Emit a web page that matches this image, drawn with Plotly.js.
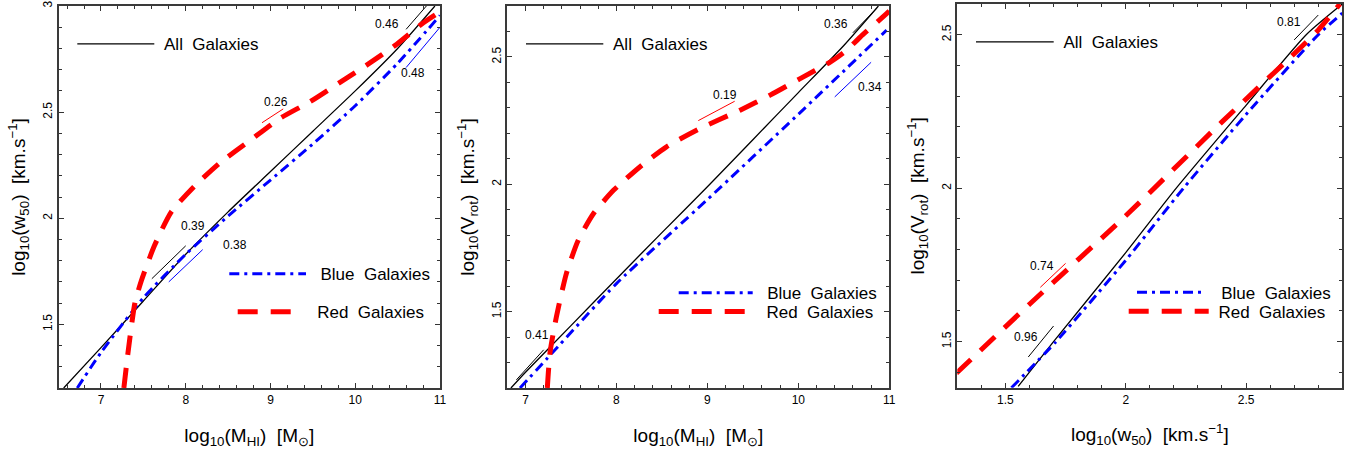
<!DOCTYPE html>
<html>
<head>
<meta charset="utf-8">
<script src="https://cdn.plot.ly/plotly-3.0.1.min.js"></script>
<style>html,body{margin:0;padding:0;background:#fff;}#chart{width:1355px;height:456px;}</style>
</head>
<body>
<div id="chart"></div>
<script>
// ---------------- DATA ----------------
// Panel 1: log10(MHI) vs log10(w50)
const p1_all_x  = [6.56, 7.0, 7.5, 8.0, 8.5, 9.0, 9.5, 10.0, 10.5, 10.94];
const p1_all_y  = [1.20, 1.39, 1.61, 1.83, 2.03, 2.22, 2.41, 2.60, 2.80, 3.00];
const p1_blue_x = [6.72, 7.0, 7.5, 8.0, 8.5, 9.0, 9.5, 10.0, 10.5, 11.0];
const p1_blue_y = [1.20, 1.367, 1.625, 1.83, 2.01, 2.18, 2.35, 2.53, 2.73, 2.955];
const p1_red_x  = [7.27, 7.32, 7.40, 7.48, 7.63, 7.83, 8.10, 8.40, 8.77, 9.11, 9.47, 9.82, 10.13, 10.49, 10.80, 10.95];
const p1_red_y  = [1.20, 1.37, 1.60, 1.71, 1.87, 2.03, 2.15, 2.26, 2.37, 2.47, 2.55, 2.64, 2.72, 2.82, 2.92, 2.96];

// Panel 2: log10(MHI) vs log10(Vrot)
const p2_all_x  = [6.84, 7.0, 7.5, 8.0, 8.5, 9.0, 9.5, 10.0, 10.5, 10.88];
const p2_all_y  = [1.20, 1.262, 1.445, 1.628, 1.81, 1.99, 2.175, 2.36, 2.545, 2.70];
const p2_blue_x = [6.94, 7.3, 8.0, 9.0, 10.0, 10.97];
const p2_blue_y = [1.20, 1.34, 1.61, 1.94, 2.275, 2.605];
const p2_red_x  = [7.24, 7.27, 7.34, 7.45, 7.58, 7.75, 7.97, 8.26, 8.55, 8.92, 9.36, 9.69, 10.02, 10.35, 10.53, 10.68, 10.97, 11.0];
const p2_red_y  = [1.20, 1.34, 1.48, 1.65, 1.78, 1.886, 1.977, 2.069, 2.147, 2.219, 2.291, 2.35, 2.415, 2.48, 2.526, 2.578, 2.67, 2.68];

// Panel 3: log10(w50) vs log10(Vrot)
const p3_all_x  = [1.553, 1.7, 2.0, 2.21, 2.5, 2.75, 2.9];
const p3_all_y  = [1.354, 1.50, 1.79, 2.00, 2.27, 2.50, 2.60];
const p3_blue_x = [1.525, 1.71, 2.0, 2.24, 2.5, 2.8, 2.9];
const p3_blue_y = [1.35, 1.50, 1.765, 2.00, 2.24, 2.50, 2.57];
const p3_red_x  = [1.296, 1.6, 2.0, 2.4, 2.7, 2.8, 2.89];
const p3_red_y  = [1.397, 1.622, 1.91, 2.216, 2.438, 2.515, 2.60];

// Slope indicator segments [x0,x1],[y0,y1]
const p1_seg_all1  = {x:[7.6, 8.0],   y:[1.715, 1.87]};
const p1_seg_blue1 = {x:[7.8, 8.2],   y:[1.70, 1.852]};
const p1_seg_red1  = {x:[8.9, 9.15],  y:[2.45, 2.515]};
const p1_seg_all2  = {x:[10.6, 10.85],y:[2.89, 3.005]};
const p1_seg_blue2 = {x:[10.6, 11.0], y:[2.71, 2.90]};
const p2_seg_all1  = {x:[6.9, 7.2],   y:[1.232, 1.35]};
const p2_seg_red1  = {x:[8.9, 9.3],   y:[2.25, 2.326]};
const p2_seg_all2  = {x:[10.6, 10.86],y:[2.595, 2.69]};
const p2_seg_blue2 = {x:[10.4, 10.8], y:[2.343, 2.479]};
const p3_seg_red1  = {x:[1.645, 1.75],y:[1.677, 1.755]};
const p3_seg_all1  = {x:[1.595, 1.70],y:[1.45, 1.551]};
const p3_seg_all2  = {x:[2.70, 2.80], y:[2.483, 2.564]};

const p1_slope_labels = ['0.46', '0.48', '0.26', '0.39', '0.38'];
const p2_slope_labels = ['0.36', '0.34', '0.19', '0.41'];
const p3_slope_labels = ['0.74', '0.96', '0.81'];

const legend_labels = ['All\u00a0\u00a0Galaxies', 'Blue\u00a0\u00a0Galaxies', 'Red\u00a0\u00a0Galaxies'];
const x_titles = ['log<sub>10</sub>(M<sub>HI</sub>)\u00a0\u00a0[M<sub>\u2299</sub>]',
                  'log<sub>10</sub>(M<sub>HI</sub>)\u00a0\u00a0[M<sub>\u2299</sub>]',
                  'log<sub>10</sub>(w<sub>50</sub>)\u00a0\u00a0[km.s<sup>\u22121</sup>]'];
const y_titles = ['log<sub>10</sub>(w<sub>50</sub>)\u00a0\u00a0[km.s<sup>\u22121</sup>]',
                  'log<sub>10</sub>(V<sub>rot</sub>)\u00a0\u00a0[km.s<sup>\u22121</sup>]',
                  'log<sub>10</sub>(V<sub>rot</sub>)\u00a0\u00a0[km.s<sup>\u22121</sup>]'];

// ---------------- STYLE / LAYOUT ----------------
const W = 1355, H = 456;
const FONT = 'Liberation Sans, Arial, Helvetica, sans-serif';
const BLACK = '#000000', BLUE = '#0000ff', RED = '#ff0000';
const sAll  = {color: BLACK, width: 1.3};
const sBlue = {color: BLUE, width: 3, dash: '10px,5px,3px,5px'};
const sRed  = {color: RED, width: 5, dash: '20px,13px'};
const LEG_FONT = 17;
const NBSP_W = 4.7; // approx width of one no-break space at LEG_FONT

function px2fx(p) { return p / W; }
function px2fy(p) { return 1 - p / H; }

const panels = [
  {xd:[58.6, 440], yd:[388, 6], xr:[6.5, 11], yr:[1.2, 3.0], xdt:1, xmin:0.2, ydt:0.5, ymin:0.1},
  {xd:[507.3, 889.3], yd:[388, 6], xr:[6.8, 11], yr:[1.2, 2.7], xdt:1, xmin:0.2, ydt:0.5, ymin:0.1},
  {xd:[957.3, 1342.3], yd:[387.7, 4], xr:[1.3, 2.9], yr:[1.35, 2.6], xdt:0.5, xmin:0.1, ydt:0.5, ymin:0.1}
];

function axis(range, domain, anchor, dt, mdt, title, isY) {
  const a = {
    range: range, domain: domain, anchor: anchor, autorange: false,
    tickmode: 'linear', tick0: 0, dtick: dt,
    ticks: 'inside', ticklen: 5, tickwidth: 1, tickcolor: '#333',
    showline: true, linecolor: '#3a3a3a', linewidth: 2, mirror: 'ticks',
    showgrid: false, zeroline: false, automargin: false,
    minor: {tick0: 0, dtick: mdt, ticks: 'inside', ticklen: 3, tickwidth: 1, tickcolor: '#333', showgrid: false},
    tickfont: {family: FONT, size: 12, color: '#000'},
    title: {text: title, font: {family: FONT, size: 19, color: '#000'}, standoff: isY ? 10 : 22}
  };
  if (isY) a.tickangle = -90;
  return a;
}

const layout = {
  width: W, height: H,
  margin: {l: 0, r: 0, t: 0, b: 0, pad: 0},
  paper_bgcolor: '#fff', plot_bgcolor: '#fff',
  font: {family: FONT, color: '#000'},
  showlegend: true,
  annotations: []
};

const data = [];
const curveSets = [
  [[p1_all_x, p1_all_y], [p1_blue_x, p1_blue_y], [p1_red_x, p1_red_y]],
  [[p2_all_x, p2_all_y], [p2_blue_x, p2_blue_y], [p2_red_x, p2_red_y]],
  [[p3_all_x, p3_all_y], [p3_blue_x, p3_blue_y], [p3_red_x, p3_red_y]]
];
const styles = [sAll, sBlue, sRed];

// legend key placement in page px: [key start, key end, text start, centre y]
const legendPos = [
  [[77.3, 154.3, 165, 44.3], [229.3, 306, 318.3, 274.3], [237.7, 293.3, 318.3, 312.3]],
  [[526, 603.3, 614, 44.3], [678.7, 752.7, 767.3, 293.3], [658.7, 756.7, 767.3, 312]],
  [[976, 1053.7, 1064.3, 42.3], [1137, 1202, 1219.7, 292.7], [1128.7, 1208.7, 1219.7, 311.7]]
];

let legN = 0;
panels.forEach((p, i) => {
  const xn = i === 0 ? 'x' : 'x' + (i + 1);
  const yn = i === 0 ? 'y' : 'y' + (i + 1);
  const xk = i === 0 ? 'xaxis' : 'xaxis' + (i + 1);
  const yk = i === 0 ? 'yaxis' : 'yaxis' + (i + 1);
  layout[xk] = axis(p.xr, [px2fx(p.xd[0]), px2fx(p.xd[1])], yn, p.xdt, p.xmin, x_titles[i], false);
  layout[yk] = axis(p.yr, [px2fy(p.yd[0]), px2fy(p.yd[1])], xn, p.ydt, p.ymin, y_titles[i], true);
  curveSets[i].forEach((c, k) => {
    legN++;
    const lname = legN === 1 ? 'legend' : 'legend' + legN;
    const lp = legendPos[i][k];
    const iw = lp[1] - lp[0];
    const extra = lp[2] - (lp[1] + 5);
    const pad = '\u00a0'.repeat(Math.max(0, Math.round(extra / NBSP_W)));
    layout[lname] = {
      x: px2fx(lp[0] - 5), y: px2fy(lp[3]), xanchor: 'left', yanchor: 'middle',
      bgcolor: 'rgba(0,0,0,0)', borderwidth: 0, itemwidth: iw,
      font: {family: FONT, size: LEG_FONT, color: '#000'}
    };
    data.push({
      type: 'scatter', mode: 'lines', x: c[0], y: c[1], xaxis: xn, yaxis: yn,
      line: Object.assign({shape: 'spline', smoothing: 0.6}, styles[k]),
      name: pad + legend_labels[k], legend: lname, showlegend: true, hoverinfo: 'skip'
    });
  });
});

// slope segments
const segs = [
  [0, p1_seg_all1, BLACK], [0, p1_seg_blue1, BLUE], [0, p1_seg_red1, RED], [0, p1_seg_all2, BLACK], [0, p1_seg_blue2, BLUE],
  [1, p2_seg_all1, BLACK], [1, p2_seg_red1, RED], [1, p2_seg_all2, BLACK], [1, p2_seg_blue2, BLUE],
  [2, p3_seg_red1, RED], [2, p3_seg_all1, BLACK], [2, p3_seg_all2, BLACK]
];
segs.forEach(s => {
  const i = s[0];
  data.push({
    type: 'scatter', mode: 'lines', x: s[1].x, y: s[1].y,
    xaxis: i === 0 ? 'x' : 'x' + (i + 1), yaxis: i === 0 ? 'y' : 'y' + (i + 1),
    line: {color: s[2], width: 1}, showlegend: false, hoverinfo: 'skip'
  });
});

// slope label placement (data coords of each panel)
const labelPos = [
  [[10.37, 2.917], [10.68, 2.686], [9.07, 2.547], [8.08, 1.963], [8.58, 1.872]],
  [[10.41, 2.628], [10.79, 2.38], [9.19, 2.35], [7.13, 1.409]],
  [[1.653, 1.747], [1.5875, 1.516], [2.678, 2.541]]
];
const labelSets = [p1_slope_labels, p2_slope_labels, p3_slope_labels];
labelSets.forEach((L, i) => {
  L.forEach((t, j) => {
    layout.annotations.push({
      text: t, x: labelPos[i][j][0], y: labelPos[i][j][1],
      xref: i === 0 ? 'x' : 'x' + (i + 1), yref: i === 0 ? 'y' : 'y' + (i + 1),
      showarrow: false, font: {family: FONT, size: 12, color: '#000'}
    });
  });
});

Plotly.newPlot('chart', data, layout, {displayModeBar: false, staticPlot: true});
</script>
</body>
</html>
